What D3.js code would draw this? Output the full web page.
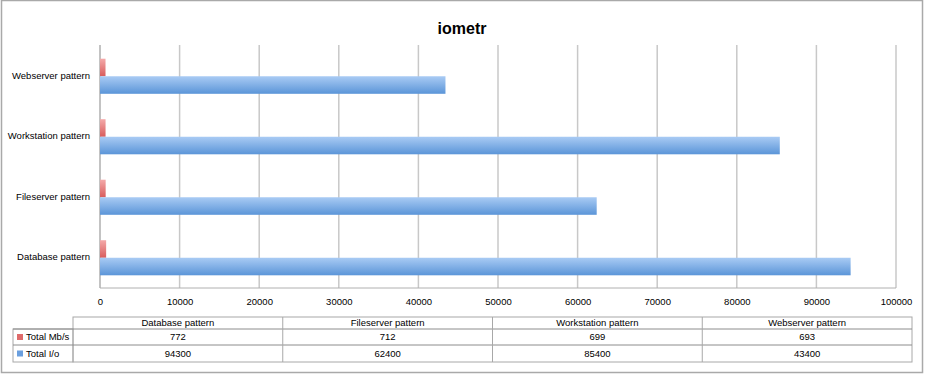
<!DOCTYPE html>
<html>
<head>
<meta charset="utf-8">
<script src="https://cdn.jsdelivr.net/npm/d3@7"></script>
<style>
  body { margin: 0; background: #fff; }
  svg text { font-family: "Liberation Sans", Arial, sans-serif; }
</style>
</head>
<body>
<svg id="chart" width="925" height="375"></svg>
<script>
// table order (left to right); the chart draws them bottom to top
const categories = ['Database pattern', 'Fileserver pattern', 'Workstation pattern', 'Webserver pattern']
const seriesNames = ['Total Mb/s', 'Total I/o']
const totalMbs = [772, 712, 699, 693]
const totalIo = [94300, 62400, 85400, 43400]
const xTicks = [0, 10000, 20000, 30000, 40000, 50000, 60000, 70000, 80000, 90000, 100000]

const rows = categories.map((c, i) => ({ cat: c, values: [totalMbs[i], totalIo[i]] }))

const svg = d3.select('#chart')
const plot = { left: 100, right: 896, top: 46, bottom: 288 }
const colors = ['#de6b6b', '#6a9fdf']

// outer frame
svg.append('rect')
  .attr('x', 1.5).attr('y', 0.5)
  .attr('width', 921).attr('height', 372)
  .attr('fill', 'none')
  .attr('stroke', '#a9a9a9')
  .attr('stroke-width', 1.5)

svg.append('text')
  .attr('x', 462).attr('y', 34)
  .attr('text-anchor', 'middle')
  .attr('font-size', '16px')
  .attr('font-weight', 'bold')
  .text('iometr')

// gradients for the glossy bars
const defs = svg.append('defs')
const grads = [['#f4aaaa', '#d85c5c'], ['#a9cbf4', '#5b95d8']]
grads.forEach((g, i) => {
  const lg = defs.append('linearGradient')
    .attr('id', 'grad' + i)
    .attr('x1', 0).attr('y1', 0).attr('x2', 0).attr('y2', 1)
  lg.append('stop').attr('offset', '0%').attr('stop-color', g[0])
  lg.append('stop').attr('offset', '100%').attr('stop-color', g[1])
})

const x = d3.scaleLinear().domain([0, 100000]).range([plot.left, plot.right])
const y = d3.scaleBand()
  .domain(categories.slice().reverse())
  .range([plot.top, plot.bottom])
  .paddingInner(0.42)
  .paddingOuter(0.21)
const ySub = d3.scaleBand().domain(seriesNames).range([0, y.bandwidth()])

// gridlines
svg.append('g')
  .selectAll('line')
  .data(xTicks)
  .join('line')
  .attr('x1', d => x(d)).attr('x2', d => x(d))
  .attr('y1', plot.top - 1).attr('y2', plot.bottom)
  .attr('stroke', '#c8c8c8')
  .attr('stroke-width', 1.5)

// axis lines
svg.append('line')
  .attr('x1', plot.left).attr('x2', plot.right)
  .attr('y1', plot.bottom).attr('y2', plot.bottom)
  .attr('stroke', '#b0b0b0')
svg.append('line')
  .attr('x1', plot.left).attr('x2', plot.left)
  .attr('y1', plot.top - 1).attr('y2', plot.bottom)
  .attr('stroke', '#b0b0b0')

// bars
const groups = svg.append('g')
  .selectAll('g')
  .data(rows)
  .join('g')
  .attr('transform', d => `translate(0,${y(d.cat)})`)

groups.selectAll('rect')
  .data(d => d.values.map((v, i) => ({ s: seriesNames[i], v: v, i: i })))
  .join('rect')
  .attr('x', x(0))
  .attr('y', d => ySub(d.s))
  .attr('width', d => x(d.v) - x(0))
  .attr('height', ySub.bandwidth())
  .attr('fill', d => `url(#grad${d.i})`)

// category labels
svg.append('g')
  .selectAll('text')
  .data(categories)
  .join('text')
  .attr('x', 90)
  .attr('y', d => y(d) + y.bandwidth() / 2)
  .attr('text-anchor', 'end')
  .attr('dominant-baseline', 'middle')
  .attr('font-size', '9.5px')
  .text(d => d)

// x axis labels
const xAxis = svg.append('g')
  .attr('transform', `translate(0,${plot.bottom})`)
  .call(d3.axisBottom(x).tickValues(xTicks).tickSize(0).tickPadding(10).tickFormat(d3.format('d')))
xAxis.select('.domain').remove()
xAxis.selectAll('text')
  .attr('font-size', '9.5px')
  .attr('fill', '#000')
  .style('font-family', '"Liberation Sans", Arial, sans-serif')

// data table
const table = { left: 73, right: 912, legendLeft: 13, top: 317, rowTops: [329, 345], bottom: 362 }
const col = d3.scaleBand().domain(categories).range([table.left, table.right])
const tg = svg.append('g').attr('stroke', '#a8a8a8').attr('fill', 'none')

tg.append('rect')
  .attr('x', table.left).attr('y', table.top)
  .attr('width', table.right - table.left).attr('height', table.bottom - table.top)
tg.append('rect')
  .attr('x', table.legendLeft).attr('y', table.rowTops[0])
  .attr('width', table.left - table.legendLeft).attr('height', table.bottom - table.rowTops[0])
tg.selectAll('line.h')
  .data(table.rowTops)
  .join('line')
  .attr('class', 'h')
  .attr('x1', table.legendLeft).attr('x2', table.right)
  .attr('y1', d => d).attr('y2', d => d)
  .attr('stroke', '#8c8c8c')
tg.selectAll('line.v')
  .data(categories.slice(1))
  .join('line')
  .attr('class', 'v')
  .attr('x1', d => col(d)).attr('x2', d => col(d))
  .attr('y1', table.top).attr('y2', table.bottom)

// header
svg.append('g')
  .selectAll('text')
  .data(categories)
  .join('text')
  .attr('x', d => col(d) + col.bandwidth() / 2)
  .attr('y', (table.top + table.rowTops[0]) / 2 + 0.5)
  .attr('text-anchor', 'middle')
  .attr('dominant-baseline', 'middle')
  .attr('font-size', '9.5px')
  .text(d => d)

const rowBands = [[table.rowTops[0], table.rowTops[1]], [table.rowTops[1], table.bottom]]
const seriesData = [totalMbs, totalIo]

seriesNames.forEach((name, si) => {
  const yc = (rowBands[si][0] + rowBands[si][1]) / 2 + 0.5
  svg.append('rect')
    .attr('x', 17).attr('y', yc - 3.5)
    .attr('width', 6).attr('height', 6)
    .attr('fill', colors[si])
  svg.append('text')
    .attr('x', 26).attr('y', yc)
    .attr('dominant-baseline', 'middle')
    .attr('font-size', '9.5px')
    .text(name)
  svg.append('g')
    .selectAll('text')
    .data(seriesData[si])
    .join('text')
    .attr('x', (d, i) => col(categories[i]) + col.bandwidth() / 2)
    .attr('y', yc)
    .attr('text-anchor', 'middle')
    .attr('dominant-baseline', 'middle')
    .attr('font-size', '9.5px')
    .text(d => d)
})
</script>
</body>
</html>
